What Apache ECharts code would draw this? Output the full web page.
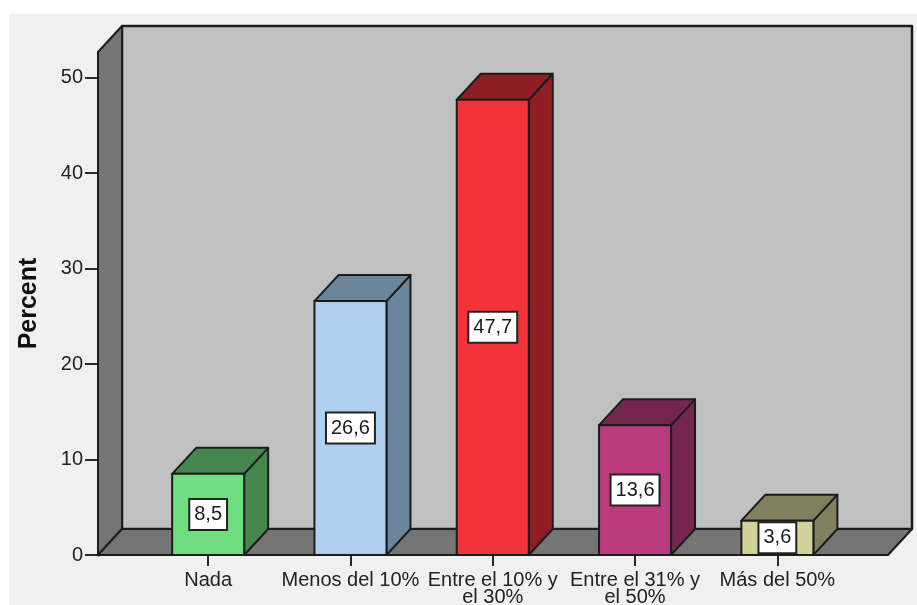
<!DOCTYPE html>
<html>
<head>
<meta charset="utf-8">
<style>html,body{margin:0;padding:0;background:#fff}#chart{width:917px;height:605px}</style>
<script src="https://cdn.jsdelivr.net/npm/echarts@6/dist/echarts.min.js"></script>
</head>
<body>
<div id="chart"></div>
<script>
// Share of respondents per answer, drawn as extruded columns.
const categories = ['Nada', 'Menos del 10%', 'Entre el 10% y\nel 30%', 'Entre el 31% y\nel 50%', 'Más del 50%'];
const percents = [8.5, 26.6, 47.7, 13.6, 3.6];
const frontColors = ['#6fdd80', '#aecfee', '#f3333a', '#b93b7d', '#d4d09a'];
const sideColors = ['#45874f', '#6b859b', '#8f1e22', '#74264f', '#817f5c'];
const yTicks = [0, 10, 20, 30, 40, 50];

// Perspective offset of the box depth, and how far the floor runs past the category band.
const DEPTH_X = 24, DEPTH_Y = 26;
const FLOOR_LEFT = 39, FLOOR_RIGHT = 39.5;
const LINE = '#1c1c1c';
const FONT = '"Liberation Sans", Arial, sans-serif';

const poly = (points, fill, width) => ({
  type: 'polygon',
  shape: { points },
  style: { fill, stroke: LINE, lineWidth: width, lineJoin: 'round' }
});

function renderWalls(params, api) {
  const c = params.coordSys;
  const x0 = c.x - FLOOR_LEFT, x1 = c.x + c.width + FLOOR_RIGHT;
  const yb = c.y + c.height, yt = c.y;
  const dx = DEPTH_X, dy = DEPTH_Y;
  return {
    type: 'group',
    children: [
      poly([[x0 + dx, yt - dy], [x1 + dx, yt - dy], [x1 + dx, yb - dy], [x0 + dx, yb - dy]], '#c0c0c0', 2.5),
      poly([[x0, yt], [x0 + dx, yt - dy], [x0 + dx, yb - dy], [x0, yb]], '#757575', 2),
      poly([[x0, yb], [x0 + dx, yb - dy], [x1 + dx, yb - dy], [x1, yb]], '#757575', 2)
    ]
  };
}

function renderColumn(params, api) {
  const i = api.value(0), v = api.value(1);
  const top = api.coord([i, v]);
  const base = api.coord([i, 0]);
  const w = api.size([1, 0])[0] * 0.506;
  const l = top[0] - w / 2, r = top[0] + w / 2;
  const t = top[1], b = base[1];
  const dx = DEPTH_X, dy = DEPTH_Y;
  return {
    type: 'group',
    children: [
      poly([[r, b], [r + dx, b - dy], [r + dx, t - dy], [r, t]], sideColors[i], 2),
      poly([[l, t], [l + dx, t - dy], [r + dx, t - dy], [r, t]], sideColors[i], 2),
      poly([[l, t], [r, t], [r, b], [l, b]], frontColors[i], 2),
      {
        type: 'text',
        x: top[0],
        y: (t + b) / 2,
        style: {
          text: String(v).replace('.', ','),
          align: 'center',
          verticalAlign: 'middle',
          font: '20px ' + FONT,
          fill: '#1a1a1a',
          backgroundColor: '#fff',
          borderColor: '#222',
          borderWidth: 2,
          padding: [5, 4, 4, 4]
        }
      }
    ]
  };
}

const chart = echarts.init(document.getElementById('chart'), null, { renderer: 'canvas' });
chart.setOption({
  animation: false,
  backgroundColor: '#ffffff',
  graphic: [{
    type: 'rect',
    z: -10,
    shape: { x: 9, y: 14, width: 908, height: 591 },
    style: { fill: '#f0f0f0' }
  }],
  grid: { left: 137, right: 68.5, top: 52, bottom: 50, outerBoundsMode: 'none' },
  xAxis: {
    type: 'category',
    data: categories,
    axisLine: { show: false },
    axisTick: { show: true, alignWithLabel: true, length: 11, lineStyle: { color: '#2a2a2a', width: 2 } },
    axisLabel: { interval: 0, margin: 17, color: '#222', fontFamily: FONT, fontSize: 20, lineHeight: 17 }
  },
  yAxis: {
    type: 'value',
    min: 0,
    max: 52.7,
    interval: 10,
    offset: 39,
    name: 'Percent',
    nameLocation: 'middle',
    nameGap: 56,
    nameTextStyle: { color: '#111', fontFamily: FONT, fontSize: 25, fontWeight: 'bold' },
    splitLine: { show: false },
    axisLine: { show: true, lineStyle: { color: LINE, width: 3 } },
    axisTick: { show: true, length: 13, customValues: yTicks, lineStyle: { color: '#2a2a2a', width: 2 } },
    axisLabel: {
      margin: 15,
      color: '#222',
      fontFamily: FONT,
      fontSize: 20,
      padding: [3, 0, 0, 0],
      customValues: yTicks
    }
  },
  series: [
    { type: 'custom', z: 1, silent: true, renderItem: renderWalls, data: [[0, 0]], clip: false },
    {
      type: 'custom',
      z: 2,
      silent: true,
      renderItem: renderColumn,
      clip: false,
      encode: { x: 0, y: 1 },
      data: percents.map((p, i) => [i, p])
    }
  ]
});
</script>
</body>
</html>
